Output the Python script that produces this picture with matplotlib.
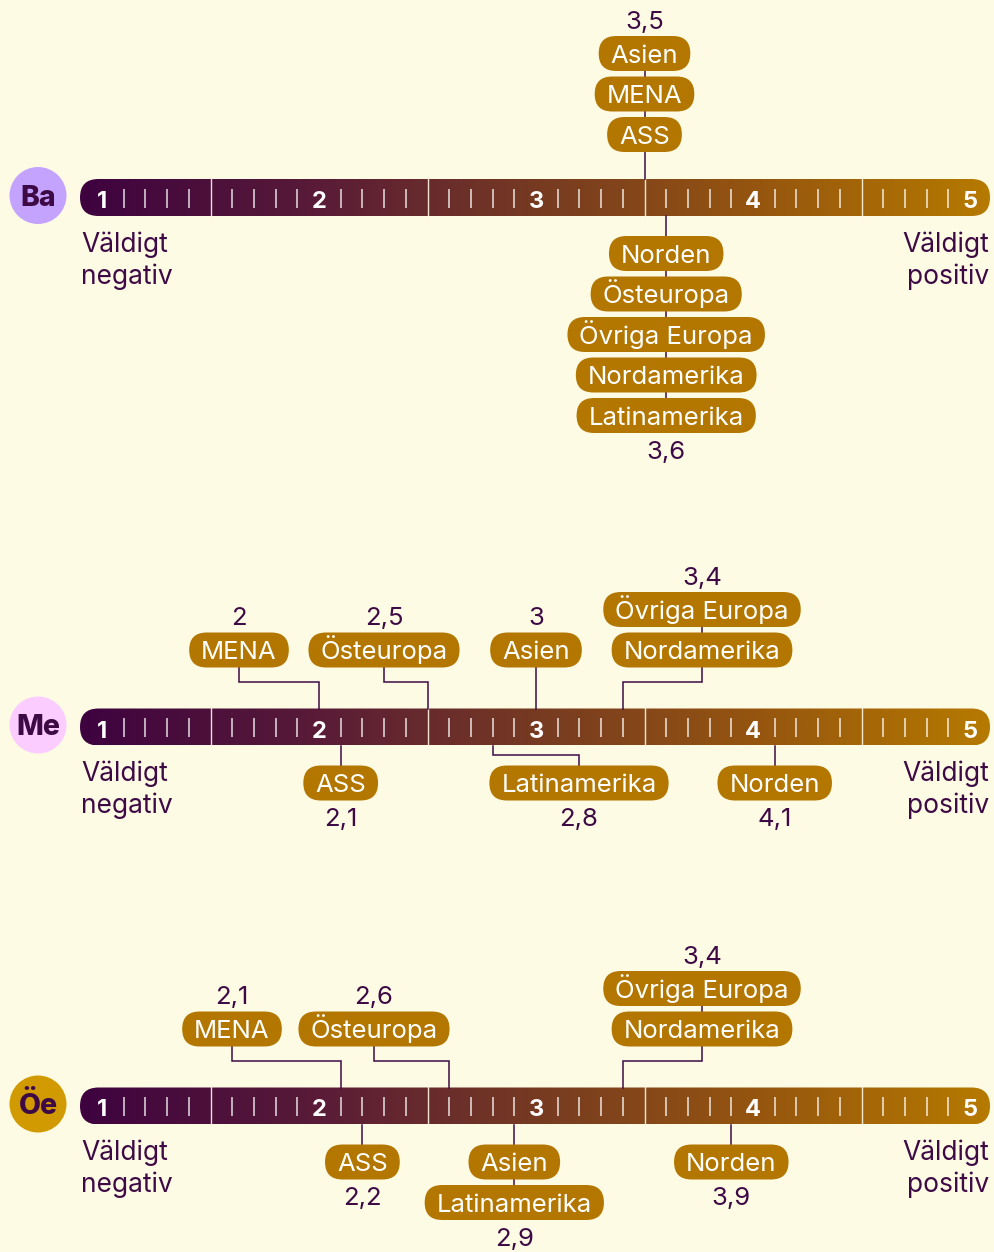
import matplotlib
matplotlib.use("Agg")
import matplotlib.pyplot as plt
import numpy as np
from matplotlib.patches import FancyBboxPatch, Circle
from matplotlib.transforms import IdentityTransform
from matplotlib.colors import LinearSegmentedColormap

plt.rcParams['font.family'] = ['Inter', 'DejaVu Sans']

# ---------------- data ----------------
regions = ["Norden", "Östeuropa", "Övriga Europa", "Nordamerika",
           "Latinamerika", "MENA", "ASS", "Asien"]
ba_values = [3.6, 3.6, 3.6, 3.6, 3.6, 3.5, 3.5, 3.5]
me_values = [4.1, 2.5, 3.4, 3.4, 2.8, 2.0, 2.1, 3.0]
oe_values = [3.9, 2.6, 3.4, 3.4, 2.9, 2.1, 2.2, 2.9]
panel_codes = ["Ba", "Me", "Öe"]
scale_ticks = [1, 2, 3, 4, 5]
left_label = ["Väldigt", "negativ"]
right_label = ["Väldigt", "positiv"]

# ---------------- style / layout ----------------
W, H = 994, 1252
BG = "#FEFBE4"
DARK = "#3D0A45"
GOLD = "#B37700"
badge_colors = ["#C4A3FF", "#FBCCFF", "#D09A00"]
grad_colors = ["#3E0340", "#581A38", "#763A22", "#96560F", "#B67A00"]
bar_centers = [197.5, 727, 1106]
X0_PX, PX_PER = 102, 217.0       # pixel position of value 1 and pixels per unit
BAR_L_PX, BAR_R_PX = 80, 990
BAR_HALF = 18.5
PILL_H = 35
PILL_PADX = 12
STACK_GAP = 40.5
PILL_FS = 18.5
VAL_FS = 18.5
END_FS = 19
DOWN_OFF = 56
UP_ELBOW = -45
DOWN_ELBOW = 28

panels = [
    dict(values=ba_values, up_off=-63,
         stacks=[(["Asien", "MENA", "ASS"], "up", None),
                 (["Norden", "Östeuropa", "Övriga Europa", "Nordamerika", "Latinamerika"], "down", None)]),
    dict(values=me_values, up_off=-77,
         stacks=[(["MENA"], "up", 239), (["Östeuropa"], "up", 384), (["Asien"], "up", None),
                 (["Övriga Europa", "Nordamerika"], "up", 702),
                 (["ASS"], "down", None), (["Latinamerika"], "down", 579), (["Norden"], "down", None)]),
    dict(values=oe_values, up_off=-77,
         stacks=[(["MENA"], "up", 232), (["Östeuropa"], "up", 374),
                 (["Övriga Europa", "Nordamerika"], "up", 702),
                 (["ASS"], "down", None), (["Asien", "Latinamerika"], "down", None), (["Norden"], "down", None)]),
]

fig = plt.figure(figsize=(W / 100, H / 100), dpi=100, facecolor=BG)
ax = fig.add_axes([0, 0, 1, 1])
ax.set_facecolor(BG)
ax.axis('off')

def px2v(px):
    return 1 + (px - X0_PX) / PX_PER

ax.set_xlim(px2v(0), px2v(W))
ax.set_ylim(H, 0)
renderer = fig.canvas.get_renderer()
cmap = LinearSegmentedColormap.from_list("scale", grad_colors)

def disp(xv, y):
    return ax.transData.transform((xv, y))

def fs_px(fs):
    return fs * 100 / 72

def centered_text(xv, y, s, fs, color, weight='normal', ha='center', z=6):
    # vertically center on cap height
    return ax.text(xv, y + 0.36 * fs_px(fs), s, ha=ha, va='baseline', fontsize=fs,
                   color=color, fontweight=weight, zorder=z)

def pill(xv, y, s):
    t = centered_text(xv, y, s, PILL_FS, 'white', z=6)
    bb = t.get_window_extent(renderer)
    w = bb.width + 2 * PILL_PADX
    cx, cy = disp(xv, y)
    p = FancyBboxPatch((cx - w / 2, cy - PILL_H / 2), w, PILL_H,
                       boxstyle=f"round,pad=0,rounding_size={PILL_H / 2}",
                       transform=IdentityTransform(), fc=GOLD, ec='none', zorder=5)
    ax.add_artist(p)

def fmt(v):
    return f"{v:g}".replace('.', ',')

for pi, (code, panel) in enumerate(zip(panel_codes, panels)):
    yc = bar_centers[pi]
    vals = dict(zip(regions, panel["values"]))

    # gradient bar
    vl, vr = px2v(BAR_L_PX), px2v(BAR_R_PX)
    grad = np.linspace(0, 1, 512)[None, :]
    im = ax.imshow(grad, cmap=cmap, extent=(vl, vr, yc + BAR_HALF, yc - BAR_HALF),
                   aspect='auto', interpolation='bilinear', zorder=1)
    x0d, y0d = disp(vl, yc + BAR_HALF)
    x1d, y1d = disp(vr, yc - BAR_HALF)
    clip = FancyBboxPatch((x0d, y0d), x1d - x0d, y1d - y0d,
                          boxstyle=f"round,pad=0,rounding_size={BAR_HALF}",
                          transform=IdentityTransform())
    im.set_clip_path(clip)

    # minor ticks and dividers
    for k in range(10, 51):
        v = k / 10
        if k % 10 == 0:
            continue
        if k % 10 == 5:
            ax.plot([v, v], [yc - 25, yc + 26], color="#FFF8E6", lw=1.0, alpha=0.9,
                    zorder=2, solid_capstyle='butt')
        else:
            ax.plot([v, v], [yc - 9, yc + 10], color="white", lw=1.1, alpha=0.85,
                    zorder=2, solid_capstyle='butt')
    for t in scale_ticks:
        centered_text(t, yc + 2, str(t), 17, 'white', weight='bold', z=3)

    # badge
    bx, by = disp(px2v(38), yc - 2)
    ax.add_artist(Circle((bx, by), 28.5, transform=IdentityTransform(),
                         fc=badge_colors[pi], ec='none', zorder=2))
    centered_text(px2v(38), yc - 2, code, 20.5, DARK, weight='heavy', z=3)

    # end labels
    for li, (a, b) in enumerate(zip(left_label, right_label)):
        ax.text(px2v(81), yc + 47 + li * 32, a, ha='left', va='center',
                fontsize=END_FS, color=DARK)
        ax.text(px2v(989), yc + 47 + li * 32, b, ha='right', va='center',
                fontsize=END_FS, color=DARK)

    # stacks
    for names, side, lab_px in panel["stacks"]:
        v = vals[names[0]]
        lx = v if lab_px is None else px2v(lab_px)
        n = len(names)
        if side == "up":
            ys = [yc + panel["up_off"] - (n - 1 - i) * STACK_GAP for i in range(n)]
            far, near = ys[0], ys[-1]
            val_y = far - 34
            edge = yc - BAR_HALF
            elbow = yc + UP_ELBOW
        else:
            ys = [yc + DOWN_OFF + i * STACK_GAP for i in range(n)]
            near, far = ys[0], ys[-1]
            val_y = far + 34
            edge = yc + BAR_HALF
            elbow = yc + DOWN_ELBOW
        if lab_px is None:
            ax.plot([v, v], [far, edge], color=DARK, lw=1.1, zorder=3)
        else:
            ax.plot([lx, lx, v, v], [far, elbow, elbow, edge], color=DARK, lw=1.1,
                    zorder=3, solid_joinstyle='miter')
        for name, y in zip(names, ys):
            pill(lx, y, name)
        centered_text(lx, val_y, fmt(v), VAL_FS, DARK)

fig.savefig("out.png", dpi=100, facecolor=BG)
